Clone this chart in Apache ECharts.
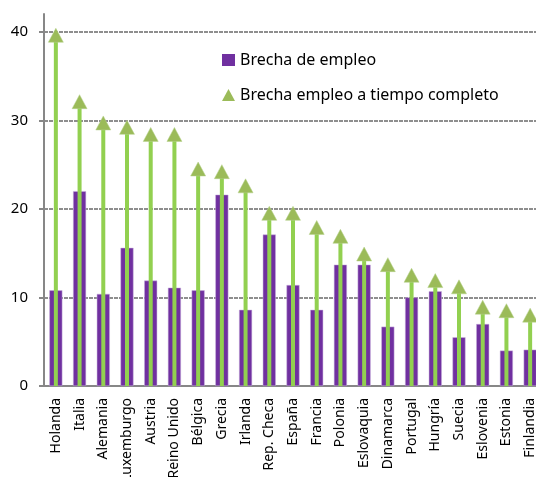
<!DOCTYPE html>
<html>
<head>
<meta charset="utf-8">
<script src="https://cdn.jsdelivr.net/npm/echarts@6/dist/echarts.min.js"></script>
<style>
  html, body { margin: 0; padding: 0; background: #fff; }
  #main { width: 536px; height: 477px; }
</style>
</head>
<body>
<div id="main"></div>
<script>
// paises
var paises = ['Holanda', 'Italia', 'Alemania', 'Luxemburgo', 'Austria', 'Reino Unido', 'Bélgica',
    'Grecia', 'Irlanda', 'Rep. Checa', 'España', 'Francia', 'Polonia', 'Eslovaquia', 'Dinamarca',
    'Portugal', 'Hungría', 'Suecia', 'Eslovenia', 'Estonia', 'Finlandia'];
// Brecha de empleo
var brechaEmpleo = [10.8, 22.0, 10.4, 15.6, 11.9, 11.1, 10.8, 21.6, 8.6, 17.1, 11.4,
    8.6, 13.7, 13.7, 6.7, 10.0, 10.7, 5.5, 7.0, 4.0, 4.1];
// Brecha empleo a tiempo completo
var brechaCompleto = [39.6, 32.1, 29.7, 29.2, 28.4, 28.4, 24.5, 24.2, 22.6, 19.5, 19.5,
    17.9, 16.9, 14.9, 13.7, 12.5, 11.9, 11.2, 8.9, 8.5, 8.0];
var yTicks = [0, 10, 20, 30, 40];

var fuente = 'Noto Sans';
var gris = '#878787';

var chart = echarts.init(document.getElementById('main'));

var option = {
    animation: false,
    textStyle: {fontFamily: fuente},
    legend: {
        orient: 'vertical',
        left: 222,
        top: 52,
        padding: 0,
        itemWidth: 13,
        itemHeight: 12,
        itemGap: 19,
        selectedMode: false,
        itemStyle: {borderWidth: 0},
        textStyle: {fontSize: 16, lineHeight: 16, color: '#000', fontFamily: fuente},
        data: [
            {name: 'Brecha de empleo', icon: 'rect'},
            {name: 'Brecha empleo a tiempo completo', icon: 'triangle'}
        ]
    },
    grid: [
        // grid de las series (el eje llega un poco mas arriba de 40; sale por la derecha)
        {left: 44, right: -6, top: 14, bottom: 91, outerBoundsMode: 'none'},
        // grid de las etiquetas y lineas 0-40
        {left: 44, right: -6, top: 32, bottom: 91, outerBoundsMode: 'none'}
    ],
    xAxis: [
        {
            type: 'category',
            gridIndex: 0,
            data: paises,
            axisLine: {lineStyle: {color: gris, width: 2}},
            axisTick: {length: 5, lineStyle: {color: gris, width: 2}},
            axisLabel: {rotate: 90, margin: 12, fontSize: 14, color: '#000', fontFamily: fuente, interval: 0}
        },
        {type: 'category', gridIndex: 0, data: paises, show: false},
        {type: 'category', gridIndex: 1, data: paises, show: false}
    ],
    yAxis: [
        {
            type: 'value',
            gridIndex: 0,
            min: 0,
            max: 42,
            axisLine: {show: true, lineStyle: {color: gris, width: 2}},
            axisTick: {show: false},
            axisLabel: {show: false},
            splitLine: {show: false}
        },
        {
            type: 'value',
            gridIndex: 1,
            min: yTicks[0],
            max: yTicks[yTicks.length - 1],
            interval: 10,
            axisLine: {show: false},
            axisTick: {show: true, length: 5, lineStyle: {color: gris, width: 2}},
            axisLabel: {fontSize: 15, color: '#000', margin: 16, fontFamily: fuente},
            splitLine: {lineStyle: {color: '#8e8e8e', width: 2, type: [4, 1]}}
        }
    ],
    series: [
        {
            name: 'Brecha de empleo',
            type: 'bar',
            xAxisIndex: 0,
            yAxisIndex: 0,
            barWidth: 13,
            itemStyle: {color: '#7030A0', borderColor: '#c9b3dc', borderWidth: 0.5},
            data: brechaEmpleo,
            z: 2
        },
        {
            name: 'tallo',
            type: 'bar',
            xAxisIndex: 1,
            yAxisIndex: 0,
            barWidth: 4,
            itemStyle: {color: '#92D050'},
            data: brechaCompleto,
            z: 3
        },
        {
            name: 'Brecha empleo a tiempo completo',
            type: 'scatter',
            xAxisIndex: 1,
            yAxisIndex: 0,
            symbol: 'triangle',
            symbolSize: [15, 14],
            itemStyle: {color: '#9BBB59', borderColor: '#b5d08a', borderWidth: 0.5, opacity: 1},
            data: brechaCompleto,
            z: 4
        }
    ]
};

chart.setOption(option);
</script>
</body>
</html>
